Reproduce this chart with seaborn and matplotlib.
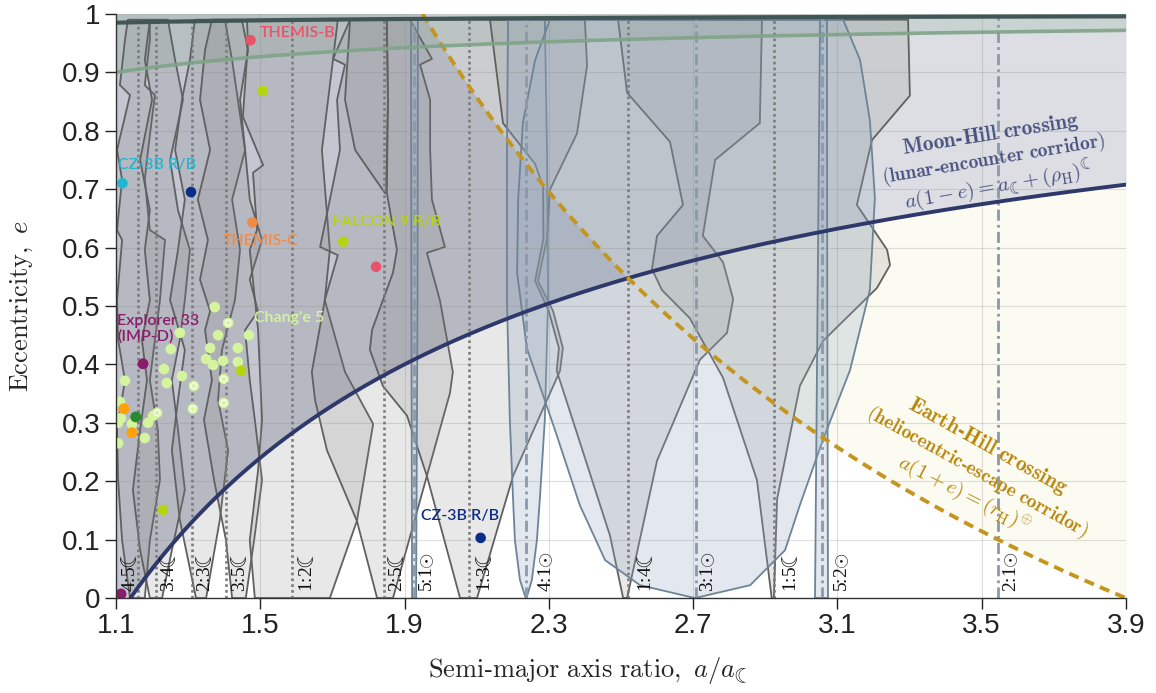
import numpy as np
import pandas as pd
import matplotlib
matplotlib.use("Agg")
import matplotlib.pyplot as plt
from matplotlib.transforms import offset_copy
import seaborn as sns

sns.set_theme(style="white")
plt.rcParams["font.family"] = ["Liberation Sans", "DejaVu Sans"]
plt.rcParams["mathtext.fontset"] = "cm"

# Corridor constants, lengths in units of the lunar semi-major axis
MOON_HILL_PERI = 1.14      # a(1-e) = a_moon + rho_H
EARTH_HILL_APO = 3.90      # a(1+e) = r_H (Earth)
GEO_PERI = 0.11            # perigee floor
EARTH_SURFACE = 0.0166     # Earth surface

# Mean-motion resonances with the Moon and with the Sun
moon_res_names = ["4:5", "3:4", "2:3", "3:5", "1:2", "2:5", "1:3", "1:4", "1:5"]
moon_res_a = [1.160, 1.211, 1.310, 1.406, 1.587, 1.842, 2.080, 2.520, 2.924]
sun_res_names = ["5:1", "4:1", "3:1", "5:2", "2:1"]
sun_res_a = [1.927, 2.236, 2.708, 3.058, 3.546]

x_ticks = [1.1, 1.5, 1.9, 2.3, 2.7, 3.1, 3.5, 3.9]
y_ticks = [0, 0.1, 0.2, 0.3, 0.4, 0.5, 0.6, 0.7, 0.8, 0.9, 1.0]
y_tick_labels = ["0", "0.1", "0.2", "0.3", "0.4", "0.5", "0.6", "0.7", "0.8", "0.9", "1"]

# Resonance islands: left edge (le, la) and right edge (re, ra), bottom to top
isl_4_5 = dict(
    le=[0, 0.099, 0.202, 0.288, 0.373, 0.442, 0.510, 0.613, 0.630, 0.716, 0.767, 0.861, 0.878, 0.955, 0.99],
    la=[1.139, 1.117, 1.106, 1.103, 1.125, 1.106, 1.103, 1.117, 1.103, 1.117, 1.103, 1.139, 1.111, 1.125, 1.133],
    re=[0, 0.099, 0.202, 0.288, 0.373, 0.442, 0.510, 0.613, 0.630, 0.716, 0.767, 0.861, 0.878, 0.955, 0.99],
    ra=[1.180, 1.194, 1.222, 1.216, 1.194, 1.208, 1.222, 1.236, 1.194, 1.180, 1.189, 1.208, 1.180, 1.194, 1.194])
isl_3_4 = dict(
    le=[0, 0.082, 0.185, 0.288, 0.373, 0.442, 0.510, 0.596, 0.664, 0.750, 0.853, 0.921, 0.99],
    la=[1.194, 1.167, 1.147, 1.167, 1.186, 1.172, 1.194, 1.180, 1.194, 1.167, 1.200, 1.180, 1.194],
    re=[0, 0.082, 0.185, 0.288, 0.373, 0.442, 0.510, 0.596, 0.664, 0.750, 0.853, 0.921, 0.99],
    ra=[1.228, 1.255, 1.291, 1.272, 1.255, 1.277, 1.291, 1.305, 1.272, 1.250, 1.286, 1.264, 1.244])
isl_2_3 = dict(
    le=[0, 0.134, 0.253, 0.339, 0.425, 0.510, 0.596, 0.682, 0.767, 0.853, 0.921, 0.99],
    la=[1.322, 1.277, 1.255, 1.272, 1.291, 1.250, 1.272, 1.291, 1.264, 1.283, 1.305, 1.319],
    re=[0, 0.134, 0.253, 0.339, 0.425, 0.510, 0.596, 0.682, 0.767, 0.853, 0.921, 0.99],
    ra=[1.350, 1.388, 1.411, 1.383, 1.394, 1.430, 1.444, 1.422, 1.458, 1.438, 1.422, 1.402])
isl_3_5 = dict(
    le=[0, 0.099, 0.202, 0.305, 0.373, 0.459, 0.491, 0.545, 0.613, 0.682, 0.767, 0.853, 0.938, 0.99],
    la=[1.422, 1.405, 1.372, 1.344, 1.366, 1.347, 1.361, 1.333, 1.355, 1.327, 1.361, 1.333, 1.347, 1.366],
    re=[0, 0.099, 0.202, 0.305, 0.373, 0.459, 0.491, 0.545, 0.613, 0.682, 0.767, 0.853, 0.938, 0.99],
    ra=[1.460, 1.483, 1.505, 1.485, 1.471, 1.458, 1.494, 1.471, 1.505, 1.471, 1.458, 1.444, 1.466, 1.449])
isl_1_2 = dict(
    le=[0, 0.099, 0.219, 0.305, 0.459, 0.596, 0.630, 0.728, 0.741, 0.824, 0.950, 0.99],
    la=[1.485, 1.471, 1.494, 1.505, 1.494, 1.471, 1.491, 1.480, 1.508, 1.452, 1.466, 1.463],
    re=[0, 0.132, 0.298, 0.387, 0.510, 0.596, 0.767, 0.923, 0.99],
    ra=[1.693, 1.768, 1.813, 1.735, 1.679, 1.693, 1.671, 1.702, 1.715])
isl_2_5 = dict(
    le=[0, 0.132, 0.253, 0.339, 0.387, 0.510, 0.587, 0.601, 0.682, 0.767, 0.853, 0.913, 0.923, 0.99],
    la=[1.824, 1.768, 1.685, 1.652, 1.643, 1.679, 1.715, 1.666, 1.693, 1.721, 1.713, 1.735, 1.702, 1.749],
    re=[0, 0.209, 0.351, 0.387, 0.510, 0.591, 0.601, 0.682, 0.767, 0.853, 0.913, 0.923, 0.99],
    ra=[1.868, 1.962, 2.026, 2.034, 1.998, 1.962, 2.012, 1.976, 1.971, 1.971, 1.943, 1.976, 1.915])
isl_2_5_core = dict(
    le=[0.693, 0.767, 0.853, 0.99], la=[1.846, 1.763, 1.735, 1.749],
    re=[0.693, 0.853, 0.99], ra=[1.849, 1.854, 1.851])
isl_1_3 = dict(
    le=[0, 0.209, 0.312, 0.363, 0.425, 0.459, 0.557, 0.596, 0.693, 0.853, 0.99],
    la=[2.054, 1.962, 1.907, 1.840, 1.804, 1.810, 1.868, 1.879, 1.851, 1.854, 1.851],
    re=[0, 0.209, 0.389, 0.428, 0.491, 0.543, 0.615, 0.699, 0.795, 0.911, 0.99],
    ra=[2.101, 2.201, 2.331, 2.339, 2.312, 2.270, 2.295, 2.303, 2.378, 2.406, 2.400])
isl_1_4 = dict(
    le=[0, 0.106, 0.267, 0.389, 0.428, 0.491, 0.543, 0.615, 0.704, 0.743, 0.813, 0.99],
    la=[2.506, 2.470, 2.386, 2.322, 2.328, 2.300, 2.262, 2.285, 2.284, 2.262, 2.173, 2.137],
    re=[0, 0.235, 0.408, 0.454, 0.512, 0.575, 0.620, 0.750, 0.813, 0.99],
    ra=[2.517, 2.600, 2.719, 2.794, 2.811, 2.783, 2.727, 2.761, 2.885, 2.891])
isl_1_5 = dict(
    le=[0, 0.202, 0.377, 0.479, 0.527, 0.563, 0.620, 0.673, 0.781, 0.865, 0.99],
    la=[2.918, 2.877, 2.783, 2.691, 2.614, 2.586, 2.600, 2.672, 2.636, 2.517, 2.492],
    re=[0, 0.170, 0.363, 0.440, 0.531, 0.570, 0.596, 0.673, 0.784, 0.860, 0.99],
    ra=[2.924, 2.933, 2.996, 3.060, 3.210, 3.246, 3.238, 3.154, 3.196, 3.301, 3.296])
moon_islands = [isl_4_5, isl_3_4, isl_2_3, isl_3_5, isl_1_2, isl_2_5, isl_2_5_core,
                isl_1_3, isl_1_4, isl_1_5]

sun_5_1 = dict(le=[0, 0.5, 0.99], la=[1.921, 1.919, 1.918],
               re=[0, 0.5, 0.99], ra=[1.932, 1.936, 1.937])
sun_4_1 = dict(le=[0, 0.031, 0.099, 0.168, 0.305, 0.510, 0.767, 0.99],
               la=[2.236, 2.220, 2.206, 2.201, 2.192, 2.184, 2.184, 2.187],
               re=[0, 0.031, 0.099, 0.168, 0.305, 0.510, 0.767, 0.99],
               ra=[2.238, 2.253, 2.267, 2.275, 2.289, 2.298, 2.295, 2.289])
sun_3_1 = dict(le=[0, 0.022, 0.065, 0.159, 0.288, 0.428, 0.557, 0.682, 0.813, 0.921, 0.99],
               la=[2.705, 2.553, 2.456, 2.386, 2.317, 2.239, 2.212, 2.215, 2.228, 2.262, 2.303],
               re=[0, 0.022, 0.082, 0.159, 0.271, 0.390, 0.527, 0.685, 0.818, 0.921, 0.99],
               ra=[2.705, 2.858, 2.955, 2.996, 3.060, 3.135, 3.190, 3.204, 3.190, 3.163, 3.116])
sun_5_2 = dict(le=[0, 0.5, 0.99], la=[3.038, 3.045, 3.052],
               re=[0, 0.5, 0.99], ra=[3.074, 3.072, 3.071])
sun_islands = [sun_5_1, sun_4_1, sun_3_1, sun_5_2]

# Tracked objects (a / a_moon, e)
change5_a = [1.374, 1.469, 1.277, 1.383, 1.252, 1.361, 1.438, 1.350, 1.369, 1.397, 1.438,
             1.233, 1.283, 1.241, 1.125, 1.111, 1.114, 1.106, 1.144, 1.189, 1.203, 1.180, 1.106]
change5_e = [0.498, 0.450, 0.454, 0.450, 0.426, 0.428, 0.428, 0.409, 0.399, 0.406, 0.404,
             0.392, 0.380, 0.368, 0.372, 0.336, 0.308, 0.300, 0.298, 0.300, 0.312, 0.274, 0.265]
change5_ring_a = [1.411, 1.316, 1.399, 1.313, 1.399, 1.214]
change5_ring_e = [0.471, 0.363, 0.375, 0.324, 0.334, 0.317]
themis_b_a, themis_b_e = [1.473, 1.821], [0.955, 0.567]
themis_c_a, themis_c_e = [1.478], [0.643]
falcon9_a, falcon9_e = [1.507, 1.730, 1.230, 1.447], [0.868, 0.610, 0.151, 0.389]
cz3b_cyan_a, cz3b_cyan_e = [1.118], [0.710]
cz3b_navy_a, cz3b_navy_e = [1.308, 2.111], [0.695, 0.103]
explorer33_a, explorer33_e = [1.175, 1.114], [0.401, 0.007]
amber_a, amber_e = [1.122, 1.144], [0.324, 0.283]
green_a, green_e = [1.155], [0.310]

palette = {"Chang'e 5": "#d4f59e", "THEMIS-B": "#e9536a", "THEMIS-C": "#f08c48",
           "FALCON 9 R/B": "#b3d40f", "CZ-3B R/B cyan": "#22b6cf", "CZ-3B R/B": "#0c2c8a",
           "Explorer 33": "#8a1c6b", "amber": "#ffa20a", "green": "#2b8a2e"}

frames = []
for name, aa, ee in [("Chang'e 5", change5_a + change5_ring_a, change5_e + change5_ring_e),
                     ("THEMIS-B", themis_b_a, themis_b_e), ("THEMIS-C", themis_c_a, themis_c_e),
                     ("FALCON 9 R/B", falcon9_a, falcon9_e),
                     ("CZ-3B R/B cyan", cz3b_cyan_a, cz3b_cyan_e), ("CZ-3B R/B", cz3b_navy_a, cz3b_navy_e),
                     ("Explorer 33", explorer33_a, explorer33_e), ("amber", amber_a, amber_e),
                     ("green", green_a, green_e)]:
    frames.append(pd.DataFrame({"a": aa, "e": ee, "obj": name}))
objects = pd.concat(frames, ignore_index=True)

# ---------------------------------------------------------------------------
fig = plt.figure(figsize=(11.56, 6.93), dpi=100)
ax = fig.add_axes([0.1003, 0.137, 0.8737, 0.843])
ax.set_facecolor("white")

A = np.linspace(1.1, 3.9, 900)
e_moon = np.clip(1 - MOON_HILL_PERI / A, 0, 1)
e_earth = np.clip(EARTH_HILL_APO / A - 1, 0, 1)

ax.fill_between(A, e_earth, e_moon, where=e_moon > e_earth, interpolate=True,
                color="#fbfbf1", lw=0, zorder=0.5)
ax.fill_between(A, e_moon, 1, color="#dcdee3", lw=0, zorder=0.6)
ax.fill_between(A, e_moon, e_earth, where=e_earth > e_moon, interpolate=True,
                color="#c4c6d1", lw=0, zorder=0.7)
ax.fill_between(A, 1 - GEO_PERI / A, 1, color="#88ad92", alpha=0.22, lw=0, zorder=0.8)


def draw_island(isl, face, edge, lw):
    xs = list(isl["la"]) + list(isl["ra"])[::-1]
    ys = list(isl["le"]) + list(isl["re"])[::-1]
    ax.fill(xs, ys, facecolor=face, edgecolor=edge, linewidth=lw, zorder=2,
            joinstyle="round")


for isl in moon_islands:
    draw_island(isl, (0.50, 0.50, 0.50, 0.18), "#606060", 1.3)
for isl in sun_islands:
    draw_island(isl, (0.60, 0.68, 0.76, 0.28), "#6d8398", 1.3)

# resonance centre lines
top_e = lambda a: 1 - EARTH_SURFACE / a
for a in moon_res_a:
    ax.plot([a, a], [0, top_e(a)], color="#7b7b7b", lw=1.9, ls=(0, (1, 1.2)), zorder=3)
for a in sun_res_a:
    ax.plot([a, a], [0, top_e(a)], color="#8a9aab", lw=2.0, ls=(0, (4, 1.5, 1, 1.5)), zorder=3)

# corridor boundaries
am = np.linspace(MOON_HILL_PERI, 3.9, 400)
ax.plot(am, 1 - MOON_HILL_PERI / am, color="#2e386a", lw=2.8, zorder=4)
ag = np.linspace(EARTH_HILL_APO / 2, 3.9, 400)
ax.plot(ag, EARTH_HILL_APO / ag - 1, color="#c4961f", lw=2.8, ls=(0, (2.6, 1.7)), zorder=4)
ax.plot(A, 1 - GEO_PERI / A, color="#7ea487", lw=2.6, alpha=0.9, zorder=4)
ax.plot(A, 1 - EARTH_SURFACE / A, color="#415656", lw=3.0, zorder=4)

# resonance labels
moon_nudge = {"4:5": -18, "1:2": 5, "1:3": 5, "1:4": 7, "1:5": 7}
sun_nudge = {"4:1": 11, "5:2": 10}
lbl_font = dict(fontsize=14, rotation=90, ha="left", va="bottom", color="#111111", zorder=7,
                family=["Liberation Serif", "DejaVu Serif"])
for name, a in zip(moon_res_names, moon_res_a):
    tr = offset_copy(ax.transData, fig=fig, x=moon_nudge.get(name, 3), y=0, units="dots")
    ax.text(a, 0.010, name + r"$☾$", transform=tr, **lbl_font)
for name, a in zip(sun_res_names, sun_res_a):
    tr = offset_copy(ax.transData, fig=fig, x=sun_nudge.get(name, 3), y=0, units="dots")
    ax.text(a, 0.010, name + r"$\odot$", transform=tr, **lbl_font)

# tracked objects
sns.scatterplot(data=objects, x="a", y="e", hue="obj", palette=palette, s=58,
                edgecolor="none", linewidth=0, legend=False, ax=ax, zorder=6)
ax.scatter(change5_ring_a, change5_ring_e, s=16, facecolor="none", edgecolor="white",
           linewidth=0.9, zorder=6.5)
for name, aa, ee in [("amber", amber_a, amber_e), ("green", green_a, green_e),
                     ("Explorer 33", explorer33_a, explorer33_e)]:
    ax.scatter(aa, ee, s=58, color=palette[name], edgecolor="none", zorder=6.6)

sat_font = dict(family=["Lato", "DejaVu Sans"], fontsize=11.5, fontweight="semibold",
                va="center", ha="left", zorder=8)
ax.text(1.499, 0.967, "THEMIS-B", color=palette["THEMIS-B"], **sat_font)
ax.text(1.106, 0.741, "CZ-3B R/B", color=palette["CZ-3B R/B cyan"], **sat_font)
ax.text(1.397, 0.611, "THEMIS-C", color=palette["THEMIS-C"], **sat_font)
ax.text(1.700, 0.644, "FALCON 9 R/B", color=palette["FALCON 9 R/B"], **sat_font)
ax.text(1.483, 0.479, "Chang'e 5", color=palette["Chang'e 5"], **sat_font)
ax.text(1.103, 0.461, "Explorer 33\n(IMP-D)", color=palette["Explorer 33"], linespacing=1.15, **sat_font)
ax.text(1.946, 0.140, "CZ-3B R/B", color=palette["CZ-3B R/B"], **sat_font)

# corridor annotations
moon_col, earth_col = "#4a5281", "#b8860b"
ann = dict(ha="center", va="center", rotation_mode="anchor", zorder=8)
ax.text(3.526, 0.793, r"$\mathbf{Moon‐Hill\ crossing}$", fontsize=15.5, color=moon_col, rotation=9, **ann)
ax.text(3.534, 0.750, r"$\mathbf{(lunar‐encounter\ corridor)}$", fontsize=14, color=moon_col, rotation=9.5, **ann)
ax.text(3.545, 0.705, r"$a(1-e) = a_☾ + (\rho_{\mathrm{H}})^{☾}$", fontsize=15, color=moon_col, rotation=10, **ann)
ax.text(3.518, 0.259, r"$\mathbf{Earth‐Hill\ crossing}$", fontsize=15.5, color=earth_col, rotation=-29, **ann)
ax.text(3.487, 0.216, r"$\mathbf{(heliocentric‐escape\ corridor)}$", fontsize=14, color=earth_col, rotation=-29, **ann)
ax.text(3.451, 0.176, r"$a(1+e) = (r_{\mathrm{H}})^{\oplus}$", fontsize=15, color=earth_col, rotation=-27, **ann)

# axes
ax.set_xlim(1.1, 3.9)
ax.set_ylim(0, 1)
ax.set_xticks(x_ticks)
ax.set_xticklabels([f"{t:.1f}" for t in x_ticks])
ax.set_yticks(y_ticks)
ax.set_yticklabels(y_tick_labels)
ax.tick_params(axis="both", direction="out", length=8, width=1, colors="#222222",
               labelsize=20, pad=3, left=True, bottom=True)
ax.grid(True, color="#8c8c8c", alpha=0.28, lw=0.8)
ax.set_axisbelow(False)
sns.despine(ax=ax)
for s in ["left", "bottom"]:
    ax.spines[s].set_color("#333333")
    ax.spines[s].set_linewidth(1.0)
    ax.spines[s].set_zorder(9)

ax.set_ylabel(r"$\mathrm{Eccentricity,}\ e$", fontsize=19)
ax.set_xlabel(r"$\mathrm{Semi‐major\ axis\ ratio,}\ a/a_☾$", fontsize=19)
ax.yaxis.set_label_coords(-0.080, 0.5)
ax.xaxis.set_label_coords(0.467, -0.097)

fig.savefig("out.png", dpi=100)
